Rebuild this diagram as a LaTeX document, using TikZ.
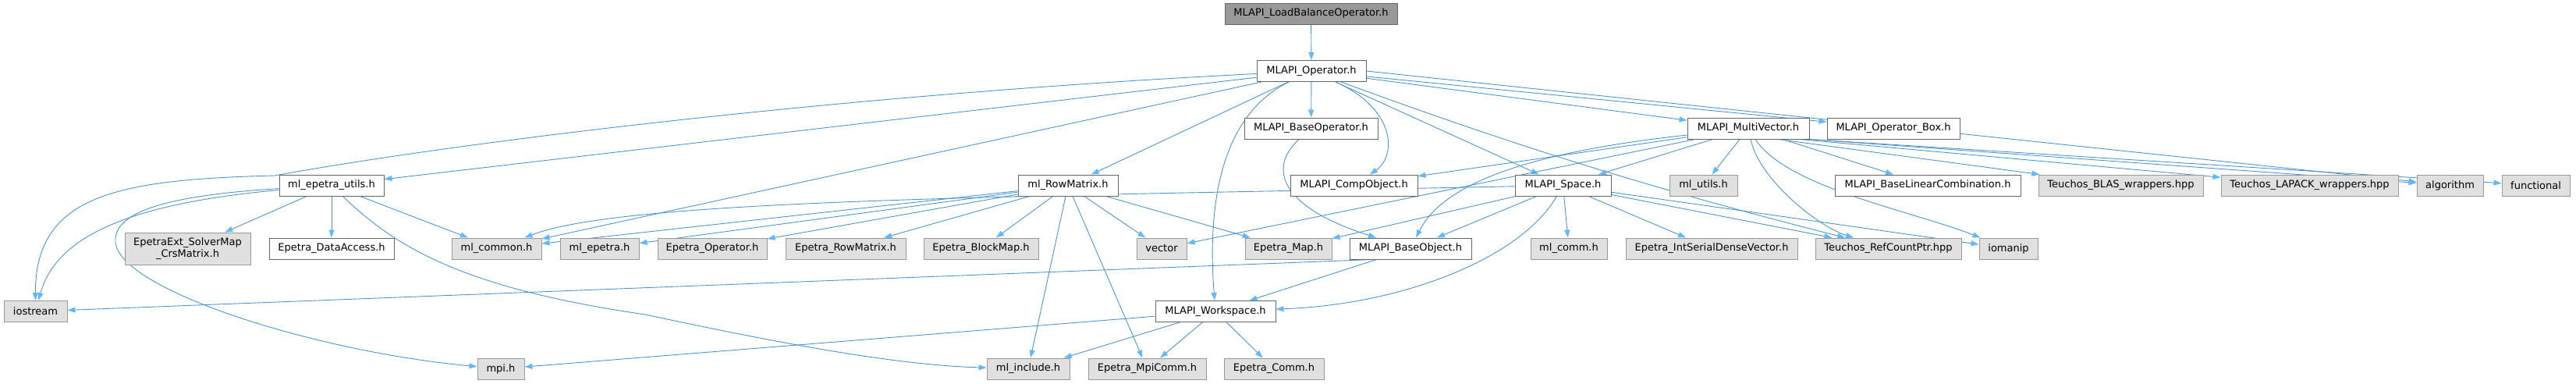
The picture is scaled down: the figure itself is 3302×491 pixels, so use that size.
\documentclass[tikz,border=0pt]{standalone}
\usepackage{fontspec}
\setmainfont{DejaVu Sans}
\usetikzlibrary{arrows.meta}
\definecolor{edgeblue}{HTML}{63B8FF}
\pgfdeclarelayer{background}
\pgfsetlayers{background,main}

\begin{document}
\begin{tikzpicture}[x=1pt, y=-1pt,
    file/.style={draw=black!60, fill=white, line width=1pt, minimum height=27pt,
        inner sep=0pt, font=\fontsize{13}{15}\selectfont},
    ext/.style={file, draw=black!40, fill=black!12},
    root/.style={file, fill=black!40},
    dep/.style={-{Triangle[length=10pt,width=7pt,color=edgeblue]},
        draw=edgeblue!80!black, line width=0.9pt}]
    \useasboundingbox (0,0) rectangle (3302,491);

    % rows 0 to 2
    \node[root, minimum width=221pt] (lbo) at (1680.5,17.5) {MLAPI\_LoadBalanceOperator.h};
    \node[file, minimum width=140pt] (oper) at (1681,91) {MLAPI\_Operator.h};
    \node[file, minimum width=171pt] (baseop) at (1680.5,164.5) {MLAPI\_BaseOperator.h};
    \node[file, minimum width=156pt] (mv) at (2241,164.5) {MLAPI\_MultiVector.h};
    \node[file, minimum width=170pt] (opbox) at (2427,164.5) {MLAPI\_Operator\_Box.h};

    % row 3
    \node[file, minimum width=134pt] (eputils) at (425,237.5) {ml\_epetra\_utils.h};
    \node[file, minimum width=128pt] (rowmat) at (1369,237.5) {ml\_RowMatrix.h};
    \node[file, minimum width=163pt] (compobj) at (1735.5,237.5) {MLAPI\_CompObject.h};
    \node[file, minimum width=123pt] (space) at (2003.5,237.5) {MLAPI\_Space.h};
    \node[ext, minimum width=87pt] (mlutils) at (2183.5,237.5) {ml\_utils.h};
    \node[file, minimum width=238pt] (blc) at (2471,237.5) {MLAPI\_BaseLinearCombination.h};
    \node[ext, minimum width=211pt] (blas) at (2718.5,237.5) {Teuchos\_BLAS\_wrappers.hpp};
    \node[ext, minimum width=227pt] (lapack) at (2960.5,237.5) {Teuchos\_LAPACK\_wrappers.hpp};
    \node[ext, minimum width=85pt] (algorithm) at (3140.5,237.5) {algorithm};
    \node[ext, minimum width=87pt] (functional) at (3250.5,237.5) {functional};

    % row 4
    \node[ext, minimum width=161pt, minimum height=41pt, align=center] (epext) at (240.5,318.5)
        {EpetraExt\_SolverMap\\\_CrsMatrix.h};
    \node[file, minimum width=160pt] (dataacc) at (425,318.5) {Epetra\_DataAccess.h};
    \node[ext, minimum width=115pt] (mlcommon) at (636.5,318.5) {ml\_common.h};
    \node[ext, minimum width=101pt] (mlepetra) at (768.5,318.5) {ml\_epetra.h};
    \node[ext, minimum width=140pt] (epop) at (913,318.5) {Epetra\_Operator.h};
    \node[ext, minimum width=154pt] (eprowmat) at (1084,318.5) {Epetra\_RowMatrix.h};
    \node[ext, minimum width=147pt] (blockmap) at (1257.5,318.5) {Epetra\_BlockMap.h};
    \node[ext, minimum width=64pt] (vector) at (1489,318.5) {vector};
    \node[ext, minimum width=111pt] (epmap) at (1651.5,318.5) {Epetra\_Map.h};
    \node[file, minimum width=156pt] (baseobj) at (1808,318.5) {MLAPI\_BaseObject.h};
    \node[ext, minimum width=98pt] (mlcomm) at (2011,318.5) {ml\_comm.h};
    \node[ext, minimum width=220pt] (intsdv) at (2194,318.5) {Epetra\_IntSerialDenseVector.h};
    \node[ext, minimum width=187pt] (refcount) at (2420.5,318.5) {Teuchos\_RefCountPtr.hpp};
    \node[ext, minimum width=75pt] (iomanip) at (2574.5,318.5) {iomanip};

    % rows 5 and 6
    \node[ext, minimum width=81pt] (iostream) at (45.5,399) {iostream};
    \node[file, minimum width=154pt] (workspace) at (1558,399) {MLAPI\_Workspace.h};
    \node[ext, minimum width=60pt] (mpi) at (642,472.5) {mpi.h};
    \node[ext, minimum width=106pt] (mlinclude) at (1318,472.5) {ml\_include.h};
    \node[ext, minimum width=151pt] (mpicomm) at (1470.5,472.5) {Epetra\_MpiComm.h};
    \node[ext, minimum width=128pt] (epcomm) at (1633,472.5) {Epetra\_Comm.h};

    \begin{pgfonlayer}{background}
    % MLAPI_LoadBalanceOperator.h and MLAPI_Operator.h
    \draw[dep] (lbo) -- (oper);
    \draw[dep] (oper) .. controls (1100,120) and (600,180) .. (352,225)
        .. controls (150,230) and (45,250) .. (iostream);
    \draw[dep] (oper) -- (eputils);
    \draw[dep] (oper) -- (mlcommon);
    \draw[dep] (oper) -- (rowmat);
    \draw[dep] (oper) .. controls (1580,140) and (1545,230) .. (workspace);
    \draw[dep] (oper) -- (baseop);
    \draw[dep] (oper) .. controls (1790,140) and (1790,200) .. (compobj);
    \draw[dep] (oper) -- (space);
    \draw[dep] (oper) .. controls (1950,190) and (2130,245) .. (refcount);
    \draw[dep] (oper) -- (mv);
    \draw[dep] (oper) -- (opbox);
    \draw[dep] (oper.east) -- (algorithm);

    % ml_epetra_utils.h
    \draw[dep] (eputils) .. controls (150,262) and (70,310) .. (iostream);
    \draw[dep] (eputils) .. controls (220,250) and (145,270) .. (148,310)
        .. controls (152,370) and (400,450) .. (mpi);
    \draw[dep] (eputils) -- (epext);
    \draw[dep] (eputils) -- (dataacc);
    \draw[dep] (eputils) -- (mlcommon);
    \draw[dep] (eputils) .. controls (510,320) and (600,370) .. (827,403)
        .. controls (1000,440) and (1150,468) .. (mlinclude);

    % ml_RowMatrix.h
    \draw[dep] (rowmat) -- (mlcommon);
    \draw[dep] (rowmat) -- (mlepetra);
    \draw[dep] (rowmat) -- (epop);
    \draw[dep] (rowmat) -- (eprowmat);
    \draw[dep] (rowmat) -- (blockmap);
    \draw[dep] (rowmat) -- (vector);
    \draw[dep] (rowmat) -- (epmap);
    \draw[dep] (rowmat) -- (mlinclude);
    \draw[dep] (rowmat) -- (mpicomm);

    % MLAPI_BaseOperator.h and MLAPI_MultiVector.h
    \draw[dep] (baseop) .. controls (1625,215) and (1640,265) .. (baseobj);
    \draw[dep] (mv) -- (compobj);
    \draw[dep] (mv) .. controls (1960,195) and (1850,235) .. (baseobj);
    \draw[dep] (mv) -- (vector);
    \draw[dep] (mv) -- (space);
    \draw[dep] (mv) -- (mlutils);
    \draw[dep] (mv) .. controls (2255,230) and (2330,290) .. (refcount);
    \draw[dep] (mv) .. controls (2290,240) and (2450,270) .. (iomanip);
    \draw[dep] (mv) -- (blc);
    \draw[dep] (mv.-20) -- (blas);
    \draw[dep] (mv.-12) -- (lapack);
    \draw[dep] (mv.south east) -- (algorithm);
    \draw[dep] (mv.south east) -- (functional);

    % MLAPI_Space.h
    \draw[dep] (space) .. controls (1300,252) and (800,255) .. (mlcommon);
    \draw[dep] (space) -- (epmap);
    \draw[dep] (space) -- (baseobj);
    \draw[dep] (space) .. controls (1950,330) and (1800,390) .. (workspace);
    \draw[dep] (space) -- (mlcomm);
    \draw[dep] (space) -- (intsdv);
    \draw[dep] (space) -- (refcount);
    \draw[dep] (space) -- (iomanip);

    % MLAPI_BaseObject.h and MLAPI_Workspace.h
    \draw[dep] (baseobj.196) -- (iostream);
    \draw[dep] (baseobj) -- (workspace);
    \draw[dep] (workspace) -- (mpi);
    \draw[dep] (workspace) -- (mlinclude);
    \draw[dep] (workspace) -- (mpicomm);
    \draw[dep] (workspace) -- (epcomm);
    \end{pgfonlayer}
\end{tikzpicture}
\end{document}
